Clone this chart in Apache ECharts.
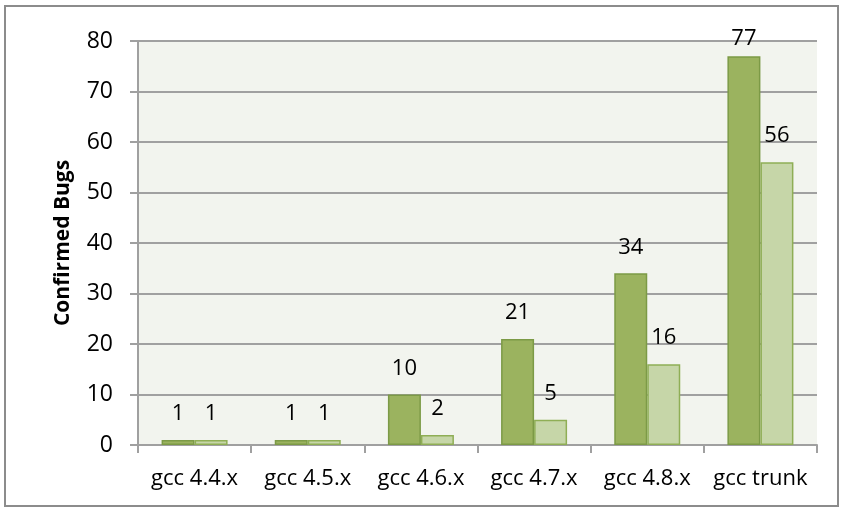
<!DOCTYPE html>
<html>
<head>
<meta charset="utf-8">
<script src="https://cdn.jsdelivr.net/npm/echarts@6/dist/echarts.min.js"></script>
<style>
html,body{margin:0;padding:0;background:#fff;}
#frame{position:absolute;left:4px;top:5px;width:835px;height:502px;border:2px solid #8c8c8c;box-sizing:border-box;}
#chart{position:absolute;left:0;top:0;width:843px;height:511px;}
</style>
</head>
<body>
<div id="frame"></div>
<div id="chart"></div>
<script>
const categories = ['gcc 4.4.x','gcc 4.5.x','gcc 4.6.x','gcc 4.7.x','gcc 4.8.x','gcc trunk'];
const seriesA = [1, 1, 10, 21, 34, 77];
const seriesB = [1, 1, 2, 5, 16, 56];
const yTicks = {min: 0, max: 80, interval: 10};
const yTitle = 'Confirmed Bugs';

const font = '"Open Sans", "Noto Sans", sans-serif';
const chart = echarts.init(document.getElementById('chart'), null, {renderer:'canvas'});
const labelCfg = {show:true, position:'top', distance:15, color:'#000', fontFamily:font, fontSize:22};
// keep labels inside the chart frame near the top (as the original does)
const withClamp = arr => arr.map(v => v > 70 ? {value:v, label:{distance:6}} : v);
chart.setOption({
  animation:false,
  backgroundColor:'transparent',
  grid:{left:138, right:26, top:41, bottom:66, show:true, backgroundColor:'#f2f4ee', borderWidth:0},
  xAxis:{
    type:'category', data:categories,
    axisLine:{show:true, lineStyle:{color:'#a0a0a0', width:2}},
    axisTick:{show:true, length:8, alignWithLabel:false, lineStyle:{color:'#a0a0a0', width:2}},
    axisLabel:{color:'#000', fontFamily:font, fontSize:22, margin:23, interval:0},
    splitLine:{show:false}
  },
  yAxis:{
    type:'value', min:yTicks.min, max:yTicks.max, interval:yTicks.interval,
    name:yTitle, nameLocation:'middle', nameGap:64, nameRotate:90,
    nameTextStyle:{color:'#000', fontFamily:font, fontSize:21, fontWeight:'bold'},
    axisLine:{show:true, lineStyle:{color:'#a0a0a0', width:2}},
    axisTick:{show:true, length:8, inside:false, lineStyle:{color:'#a0a0a0', width:2}},
    axisLabel:{color:'#000', fontFamily:font, fontSize:23, margin:25},
    splitLine:{show:true, lineStyle:{color:'#a0a0a0', width:2}}
  },
  series:[
    {type:'bar', data:withClamp(seriesA), barWidth:33, barGap:'0%', barCategoryGap:'41%',
     itemStyle:{color:'#9bb35f', borderColor:'#7c9a46', borderWidth:1.5},
     label:labelCfg},
    {type:'bar', data:withClamp(seriesB), barWidth:33, barGap:'0%',
     itemStyle:{color:'#c6d6a8', borderColor:'#8fae55', borderWidth:1.5},
     label:labelCfg}
  ]
});
</script>
</body>
</html>
